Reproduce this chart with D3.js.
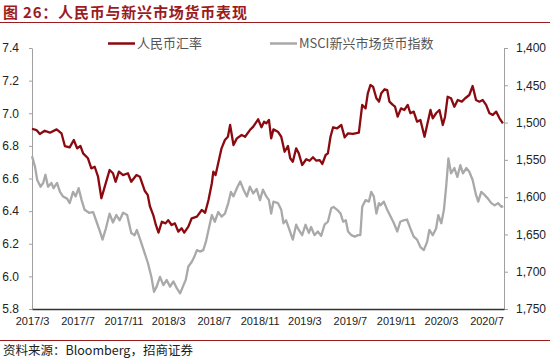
<!DOCTYPE html>
<html>
<head>
<meta charset="utf-8">
<script src="https://cdn.jsdelivr.net/npm/d3@7/dist/d3.min.js"></script>
<style>
    body { margin: 0; background: #fff; }
    svg { display: block; font-family: "Liberation Sans", Arial, sans-serif; }
    .cjk { font-family: "Noto Sans CJK SC", sans-serif; }
</style>
</head>
<body>
<svg id="chart" width="550" height="359"></svg>
<script>
// 人民币汇率 (left axis)
const cnyRate = [
    ["2017-03-01", 6.905], ["2017-03-13", 6.897], ["2017-03-22", 6.873], ["2017-04-04", 6.893],
    ["2017-04-18", 6.881], ["2017-05-06", 6.901], ["2017-05-19", 6.877], ["2017-05-28", 6.799],
    ["2017-06-10", 6.791], ["2017-06-21", 6.836], ["2017-06-30", 6.785], ["2017-07-09", 6.799],
    ["2017-07-16", 6.754], ["2017-07-29", 6.724], ["2017-08-07", 6.662], ["2017-08-16", 6.672],
    ["2017-08-25", 6.611], ["2017-09-03", 6.479], ["2017-09-12", 6.550], ["2017-09-25", 6.652],
    ["2017-10-04", 6.632], ["2017-10-11", 6.580], ["2017-10-20", 6.642], ["2017-10-31", 6.621],
    ["2017-11-13", 6.632], ["2017-11-22", 6.580], ["2017-12-06", 6.621], ["2017-12-15", 6.611],
    ["2017-12-28", 6.525], ["2018-01-05", 6.500], ["2018-01-11", 6.430], ["2018-01-20", 6.376],
    ["2018-01-27", 6.315], ["2018-02-03", 6.268], ["2018-02-12", 6.335], ["2018-02-22", 6.325],
    ["2018-03-01", 6.345], ["2018-03-10", 6.315], ["2018-03-19", 6.325], ["2018-03-28", 6.274],
    ["2018-04-06", 6.295], ["2018-04-13", 6.268], ["2018-04-24", 6.305], ["2018-05-03", 6.356],
    ["2018-05-17", 6.366], ["2018-05-30", 6.407], ["2018-06-08", 6.390], ["2018-06-17", 6.468],
    ["2018-06-26", 6.571], ["2018-06-30", 6.642], ["2018-07-06", 6.621], ["2018-07-13", 6.693],
    ["2018-07-22", 6.785], ["2018-07-31", 6.836], ["2018-08-08", 6.856], ["2018-08-14", 6.928],
    ["2018-08-23", 6.805], ["2018-09-01", 6.846], ["2018-09-14", 6.867], ["2018-09-23", 6.856],
    ["2018-10-06", 6.897], ["2018-10-15", 6.918], ["2018-10-28", 6.963], ["2018-11-06", 6.914],
    ["2018-11-13", 6.948], ["2018-11-19", 6.938], ["2018-11-26", 6.959], ["2018-12-02", 6.846],
    ["2018-12-08", 6.901], ["2018-12-20", 6.887], ["2018-12-29", 6.856], ["2019-01-07", 6.764],
    ["2019-01-16", 6.799], ["2019-01-22", 6.724], ["2019-01-29", 6.703], ["2019-02-07", 6.785],
    ["2019-02-14", 6.754], ["2019-02-23", 6.683], ["2019-03-06", 6.718], ["2019-03-15", 6.709],
    ["2019-03-24", 6.730], ["2019-04-02", 6.709], ["2019-04-11", 6.713], ["2019-04-18", 6.689],
    ["2019-04-27", 6.744], ["2019-05-03", 6.754], ["2019-05-10", 6.856], ["2019-05-17", 6.914],
    ["2019-05-28", 6.908], ["2019-06-08", 6.928], ["2019-06-17", 6.852], ["2019-06-26", 6.877],
    ["2019-07-09", 6.873], ["2019-07-25", 6.881], ["2019-08-03", 7.051], ["2019-08-12", 7.030],
    ["2019-08-18", 7.122], ["2019-08-25", 7.173], ["2019-09-01", 7.163], ["2019-09-10", 7.092],
    ["2019-09-17", 7.071], ["2019-09-23", 7.122], ["2019-10-02", 7.147], ["2019-10-09", 7.142],
    ["2019-10-15", 7.071], ["2019-10-24", 7.051], ["2019-10-30", 7.040], ["2019-11-06", 6.979],
    ["2019-11-15", 7.030], ["2019-11-24", 7.020], ["2019-12-03", 7.051], ["2019-12-10", 7.000],
    ["2019-12-19", 7.010], ["2019-12-28", 6.948], ["2020-01-06", 6.959], ["2020-01-17", 6.856],
    ["2020-01-24", 6.928], ["2020-02-02", 7.020], ["2020-02-08", 6.969], ["2020-02-17", 7.000],
    ["2020-02-26", 7.020], ["2020-03-06", 6.928], ["2020-03-12", 6.979], ["2020-03-19", 7.101],
    ["2020-03-28", 7.092], ["2020-04-06", 7.040], ["2020-04-15", 7.081], ["2020-04-26", 7.071],
    ["2020-05-05", 7.092], ["2020-05-16", 7.112], ["2020-05-25", 7.167], ["2020-06-03", 7.081],
    ["2020-06-12", 7.071], ["2020-06-21", 7.081], ["2020-06-30", 7.051], ["2020-07-09", 7.000],
    ["2020-07-18", 6.990], ["2020-07-27", 7.010], ["2020-08-05", 6.969], ["2020-08-14", 6.938]
];

// MSCI新兴市场货币指数 (right axis, inverted)
const emCurrency = [
    ["2017-03-01", 1545], ["2017-03-09", 1559], ["2017-03-15", 1577], ["2017-03-24", 1586],
    ["2017-03-31", 1581], ["2017-04-06", 1570], ["2017-04-13", 1586], ["2017-04-22", 1581],
    ["2017-04-28", 1588], ["2017-05-07", 1581], ["2017-05-15", 1593], ["2017-05-23", 1599],
    ["2017-06-03", 1602], ["2017-06-10", 1608], ["2017-06-19", 1593], ["2017-06-26", 1599],
    ["2017-07-04", 1588], ["2017-07-12", 1604], ["2017-07-20", 1617], ["2017-08-01", 1621],
    ["2017-08-12", 1620], ["2017-08-21", 1633], ["2017-08-30", 1646], ["2017-09-06", 1657],
    ["2017-09-15", 1642], ["2017-09-25", 1622], ["2017-10-04", 1634], ["2017-10-13", 1624],
    ["2017-10-22", 1631], ["2017-10-31", 1621], ["2017-11-11", 1624], ["2017-11-22", 1648],
    ["2017-12-01", 1651], ["2017-12-07", 1644], ["2017-12-16", 1657], ["2017-12-28", 1675],
    ["2018-01-06", 1689], ["2018-01-15", 1707], ["2018-01-22", 1727], ["2018-01-29", 1720],
    ["2018-02-07", 1707], ["2018-02-16", 1718], ["2018-02-25", 1711], ["2018-03-06", 1720],
    ["2018-03-15", 1713], ["2018-03-24", 1722], ["2018-04-02", 1729], ["2018-04-11", 1718],
    ["2018-04-17", 1711], ["2018-04-24", 1693], ["2018-05-03", 1687], ["2018-05-10", 1680],
    ["2018-05-17", 1671], ["2018-05-25", 1673], ["2018-06-03", 1671], ["2018-06-10", 1660],
    ["2018-06-17", 1644], ["2018-06-26", 1624], ["2018-07-04", 1633], ["2018-07-13", 1620],
    ["2018-07-22", 1626], ["2018-07-31", 1622], ["2018-08-09", 1608], ["2018-08-16", 1593],
    ["2018-08-23", 1599], ["2018-09-01", 1588], ["2018-09-10", 1579], ["2018-09-19", 1590],
    ["2018-09-28", 1599], ["2018-10-06", 1586], ["2018-10-15", 1595], ["2018-10-24", 1589],
    ["2018-11-02", 1604], ["2018-11-10", 1590], ["2018-11-19", 1599], ["2018-11-26", 1604],
    ["2018-12-02", 1622], ["2018-12-08", 1606], ["2018-12-20", 1608], ["2018-12-29", 1617],
    ["2019-01-04", 1635], ["2019-01-11", 1631], ["2019-01-20", 1644], ["2019-01-29", 1657],
    ["2019-02-07", 1637], ["2019-02-14", 1644], ["2019-02-23", 1651], ["2019-03-04", 1637],
    ["2019-03-13", 1648], ["2019-03-19", 1640], ["2019-03-28", 1651], ["2019-04-06", 1646],
    ["2019-04-15", 1652], ["2019-04-24", 1637], ["2019-05-03", 1633], ["2019-05-12", 1615],
    ["2019-05-18", 1613], ["2019-05-28", 1617], ["2019-06-06", 1622], ["2019-06-13", 1633],
    ["2019-06-20", 1631], ["2019-06-26", 1646], ["2019-07-05", 1651], ["2019-07-14", 1653],
    ["2019-07-23", 1651], ["2019-07-29", 1651], ["2019-08-03", 1613], ["2019-08-12", 1604],
    ["2019-08-21", 1606], ["2019-08-27", 1593], ["2019-09-03", 1599], ["2019-09-10", 1622],
    ["2019-09-17", 1608], ["2019-09-21", 1611], ["2019-09-30", 1606], ["2019-10-09", 1617],
    ["2019-10-18", 1626], ["2019-10-27", 1635], ["2019-11-05", 1646], ["2019-11-13", 1633],
    ["2019-11-22", 1631], ["2019-12-01", 1630], ["2019-12-10", 1642], ["2019-12-19", 1653],
    ["2019-12-28", 1657], ["2020-01-06", 1667], ["2020-01-15", 1671], ["2020-01-24", 1660],
    ["2020-01-30", 1644], ["2020-02-08", 1651], ["2020-02-17", 1642], ["2020-02-23", 1624],
    ["2020-03-02", 1635], ["2020-03-09", 1617], ["2020-03-15", 1586], ["2020-03-21", 1548],
    ["2020-03-28", 1568], ["2020-04-06", 1561], ["2020-04-14", 1573], ["2020-04-22", 1557],
    ["2020-04-29", 1568], ["2020-05-08", 1561], ["2020-05-16", 1566], ["2020-05-25", 1577],
    ["2020-06-03", 1597], ["2020-06-09", 1606], ["2020-06-17", 1593], ["2020-06-26", 1597],
    ["2020-07-05", 1602], ["2020-07-14", 1608], ["2020-07-23", 1611], ["2020-08-01", 1608],
    ["2020-08-10", 1613], ["2020-08-15", 1612]
];

const leftTicks = [5.8, 6.0, 6.2, 6.4, 6.6, 6.8, 7.0, 7.2, 7.4];
const rightTicks = [1400, 1450, 1500, 1550, 1600, 1650, 1700, 1750];
const xTickLabels = ["2017/3", "2017/7", "2017/11", "2018/3", "2018/7", "2018/11",
    "2019/3", "2019/7", "2019/11", "2020/3", "2020/7"];

const seriesNames = ["人民币汇率", "MSCI新兴市场货币指数"];
const colors = { cny: "#8a0a10", em: "#a9a9a9", title: "#9b1b1f" };

const parseDate = d3.timeParse("%Y-%m-%d");
const parseLabel = d3.timeParse("%Y/%m");

const svg = d3.select("#chart");

const x = d3.scaleTime()
    .domain([parseDate("2017-03-01"), parseDate("2020-08-17")])
    .range([32, 504]);
const yL = d3.scaleLinear().domain([5.8, 7.4]).range([309, 48]);
const yR = d3.scaleLinear().domain([1400, 1750]).range([48, 309]);

// title
svg.append("text")
    .attr("class", "cjk")
    .attr("x", 3).attr("y", 18)
    .attr("fill", colors.title)
    .attr("font-size", 15).attr("font-weight", "bold")
    .attr("letter-spacing", 0.8)
    .text("图 26：人民币与新兴市场货币表现");
svg.append("line")
    .attr("x1", 0).attr("x2", 550).attr("y1", 22.5).attr("y2", 22.5)
    .attr("stroke", colors.title).attr("stroke-width", 1);

// left axis
const axL = svg.append("g")
    .attr("transform", "translate(32,0)")
    .call(d3.axisLeft(yL).tickValues(leftTicks).tickFormat(d3.format(".1f"))
        .tickSize(3).tickSizeOuter(0).tickPadding(10));

// right axis
const axR = svg.append("g")
    .attr("transform", "translate(504,0)")
    .call(d3.axisRight(yR).tickValues(rightTicks).tickFormat(d3.format(","))
        .tickSize(4).tickSizeOuter(0).tickPadding(8));

[axL, axR].forEach(ax => {
    ax.select(".domain").attr("stroke", "#a0a0a0");
    ax.selectAll(".tick line").attr("stroke", "#a0a0a0");
    ax.selectAll(".tick text").attr("fill", "#222").attr("font-size", 12)
        .attr("font-family", "'Liberation Sans', Arial, sans-serif");
});

// bottom axis
const axB = svg.append("g")
    .attr("transform", "translate(0,309)")
    .call(d3.axisBottom(x).tickValues(xTickLabels.map(parseLabel))
        .tickFormat(d3.timeFormat("%Y/%-m")).tickSize(0).tickPadding(8));
axB.select(".domain").attr("stroke", "#333").attr("stroke-width", 1.5);
axB.selectAll(".tick text").attr("fill", "#222").attr("font-size", 11)
    .attr("font-family", "'Liberation Sans', Arial, sans-serif");

// lines
const lineL = d3.line().x(d => x(parseDate(d[0]))).y(d => yL(d[1]));
const lineR = d3.line().x(d => x(parseDate(d[0]))).y(d => yR(d[1]));

svg.append("path").datum(emCurrency)
    .attr("d", lineR).attr("fill", "none")
    .attr("stroke", colors.em).attr("stroke-width", 2.3).attr("stroke-linejoin", "round");
svg.append("path").datum(cnyRate)
    .attr("d", lineL).attr("fill", "none")
    .attr("stroke", colors.cny).attr("stroke-width", 2.3).attr("stroke-linejoin", "round");

// legend
const legend = [
    { name: seriesNames[0], color: colors.cny, x: 108 },
    { name: seriesNames[1], color: colors.em, x: 270 }
];
legend.forEach(l => {
    svg.append("line")
        .attr("x1", l.x).attr("x2", l.x + 27).attr("y1", 43.5).attr("y2", 43.5)
        .attr("stroke", l.color).attr("stroke-width", 2.5);
    svg.append("text")
        .attr("class", "cjk")
        .attr("x", l.x + 29).attr("y", 48)
        .attr("fill", "#555").attr("font-size", 13)
        .text(l.name);
});

// footer
svg.append("line")
    .attr("x1", 0).attr("x2", 550).attr("y1", 340.5).attr("y2", 340.5)
    .attr("stroke", colors.title).attr("stroke-width", 1);
svg.append("text")
    .attr("class", "cjk")
    .attr("x", 3).attr("y", 355)
    .attr("fill", "#222").attr("font-size", 12.5)
    .text("资料来源：Bloomberg，招商证券");
</script>
</body>
</html>
